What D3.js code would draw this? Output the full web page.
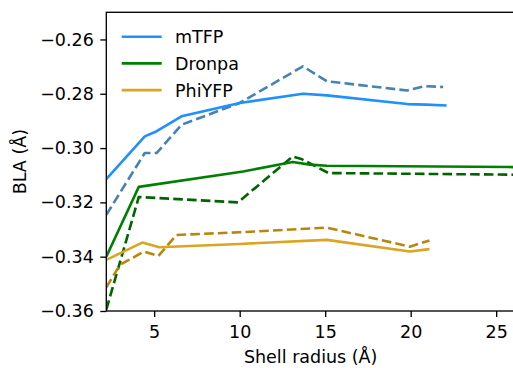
<!DOCTYPE html>
<html>
<head>
<meta charset="utf-8">
<script src="https://cdn.jsdelivr.net/npm/d3@7"></script>
<style>
  body { margin: 0; background: #fff; }
  svg { display: block; font-family: "DejaVu Sans", sans-serif; }
</style>
</head>
<body>
<div id="chart"></div>
<script>
/* DATA */
const mtfpX      = [2.2, 4.45, 5.15, 6.6, 10.0, 13.7, 15.1, 19.8, 20.9, 22.1];
const mtfpY      = [-0.3114, -0.2957, -0.2938, -0.2883, -0.2834, -0.2800, -0.2806, -0.2838, -0.2840, -0.2843];
const mtfpDashX  = [2.2, 4.45, 5.15, 6.6, 10.0, 13.7, 15.1, 19.8, 20.8, 21.9];
const mtfpDashY  = [-0.3246, -0.3018, -0.3018, -0.2914, -0.2834, -0.2699, -0.2754, -0.2788, -0.2772, -0.2775];

const dronpaX     = [2.2, 4.1, 10.2, 13.1, 14.1, 15.1, 26.0];
const dronpaY     = [-0.3400, -0.3143, -0.3086, -0.3051, -0.3061, -0.3065, -0.3070];
const dronpaDashX = [2.2, 4.1, 9.9, 13.1, 13.6, 15.2, 26.0];
const dronpaDashY = [-0.3595, -0.3180, -0.3200, -0.3031, -0.3040, -0.3092, -0.3098];

const phiX     = [2.2, 4.3, 5.3, 10.0, 15.1, 19.95, 21.1];
const phiY     = [-0.3412, -0.3348, -0.3365, -0.3353, -0.3338, -0.3381, -0.3372];
const phiDashX = [2.2, 3.0, 4.4, 5.25, 6.3, 10.0, 15.1, 19.95, 21.1];
const phiDashY = [-0.3513, -0.3430, -0.3381, -0.3397, -0.3320, -0.3310, -0.3293, -0.3363, -0.3340];

const xTicks = [5, 10, 15, 20, 25];
const yTicks = [-0.36, -0.34, -0.32, -0.30, -0.28, -0.26];

const legendNames = ["mTFP", "Dronpa", "PhiYFP"];

/* LAYOUT */
const W = 513, H = 368;
const plotL = 106.3, plotR = 515, plotT = 12.3, plotB = 311;
const fs = 17.5;

const svg = d3.select("#chart").append("svg")
  .attr("width", W).attr("height", H);

const x = d3.scaleLinear().domain([2.2, 26.1]).range([plotL, plotR]);
const y = d3.scaleLinear().domain([-0.36, -0.25]).range([plotB, plotT]);

svg.append("clipPath").attr("id", "clip")
  .append("rect")
  .attr("x", plotL).attr("y", plotT)
  .attr("width", plotR - plotL).attr("height", plotB - plotT);

const series = [
  { xs: mtfpDashX,   ys: mtfpDashY,   color: "#4682b4", dash: true },
  { xs: dronpaDashX, ys: dronpaDashY, color: "#006400", dash: true },
  { xs: phiDashX,    ys: phiDashY,    color: "#b8860b", dash: true },
  { xs: mtfpX,       ys: mtfpY,       color: "#1e90ff", dash: false },
  { xs: dronpaX,     ys: dronpaY,     color: "#008000", dash: false },
  { xs: phiX,        ys: phiY,        color: "#daa520", dash: false }
];

const line = d3.line().x(d => x(d[0])).y(d => y(d[1]));

const plot = svg.append("g").attr("clip-path", "url(#clip)");
plot.selectAll("path.series")
  .data(series)
  .join("path")
  .attr("class", "series")
  .attr("d", s => line(d3.zip(s.xs, s.ys)))
  .attr("fill", "none")
  .attr("stroke", s => s.color)
  .attr("stroke-width", 2.6)
  .attr("stroke-dasharray", s => s.dash ? "9.6,4.2" : null)
  .attr("stroke-linejoin", "round");

/* AXES */
const xAxis = svg.append("g")
  .attr("transform", `translate(0,${plotB})`)
  .call(d3.axisBottom(x).tickValues(xTicks).tickSize(6).tickSizeOuter(0).tickPadding(8.5).tickFormat(d3.format("d")));

const yAxis = svg.append("g")
  .attr("transform", `translate(${plotL},0)`)
  .call(d3.axisLeft(y).tickValues(yTicks).tickSize(6).tickSizeOuter(0).tickPadding(6.5).tickFormat(d3.format(".2f")));

[xAxis, yAxis].forEach(a => {
  a.select(".domain").remove();
  a.selectAll(".tick line").attr("stroke", "#000").attr("stroke-width", 1.33);
  a.selectAll(".tick text")
    .attr("fill", "#000")
    .style("font-size", fs + "px")
    .style("font-family", "DejaVu Sans");
});

/* spines */
svg.append("rect")
  .attr("x", plotL).attr("y", plotT)
  .attr("width", plotR - plotL).attr("height", plotB - plotT)
  .attr("fill", "none").attr("stroke", "#000").attr("stroke-width", 1.33);

/* axis labels */
svg.append("text")
  .attr("x", (plotL + plotR) / 2).attr("y", 363)
  .attr("text-anchor", "middle")
  .style("font-size", fs + "px")
  .text("Shell radius (Å)");

svg.append("text")
  .attr("transform", `translate(26,${(plotT + plotB) / 2}) rotate(-90)`)
  .attr("text-anchor", "middle")
  .style("font-size", fs + "px")
  .text("BLA (Å)");

/* LEGEND */
const legendColors = ["#1e90ff", "#008000", "#daa520"];
const legend = svg.append("g");
legendNames.forEach((name, i) => {
  const ly = 36.7 + i * 26.7;
  legend.append("line")
    .attr("x1", 121.7).attr("x2", 161.7)
    .attr("y1", ly).attr("y2", ly)
    .attr("stroke", legendColors[i]).attr("stroke-width", 2.6);
  legend.append("text")
    .attr("x", 175).attr("y", ly + 6.5)
    .style("font-size", fs + "px")
    .text(name);
});
</script>
</body>
</html>
